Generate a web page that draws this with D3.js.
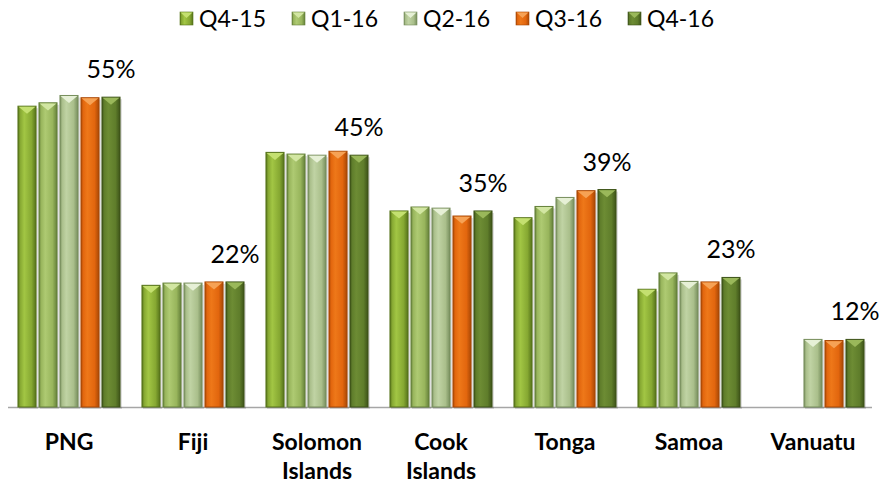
<!DOCTYPE html>
<html>
<head>
<meta charset="utf-8">
<script src="https://cdn.jsdelivr.net/npm/d3@7"></script>
<style>
  html, body { margin: 0; padding: 0; background: #ffffff; }
  svg { display: block; font-family: Lato, "Open Sans", sans-serif; }
</style>
</head>
<body>
<svg id="chart" width="879" height="485"></svg>
<script>
// ---- data ----
const categories = ["PNG", "Fiji", "Solomon Islands", "Cook Islands", "Tonga", "Samoa", "Vanuatu"];
const categoryLines = [["PNG"], ["Fiji"], ["Solomon", "Islands"], ["Cook", "Islands"], ["Tonga"], ["Samoa"], ["Vanuatu"]];
const series = ["Q4-15", "Q1-16", "Q2-16", "Q3-16", "Q4-16"];
const q415 = [53.4, 21.6, 45.2, 34.8, 33.6, 20.9, null];
const q116 = [54.0, 22.0, 44.9, 35.5, 35.6, 23.8, null];
const q216 = [55.3, 22.0, 44.7, 35.3, 37.2, 22.3, 12.0];
const q316 = [54.9, 22.2, 45.4, 33.9, 38.4, 22.2, 11.8];
const q416 = [55.0, 22.2, 44.7, 34.8, 38.6, 23.0, 12.0];
const seriesValues = [q415, q116, q216, q316, q416];
const labelSeries = "Q4-16";

// ---- styles ----
const colors = {
  "Q4-15": { base: "#86a832", light: "#a2c644", dark: "#56731a", cap: "#c4e070" },
  "Q1-16": { base: "#98b55c", light: "#aeca72", dark: "#65813a", cap: "#d2e6a2" },
  "Q2-16": { base: "#aabf8b", light: "#c0d3a4", dark: "#778e5d", cap: "#e6f0d6" },
  "Q3-16": { base: "#e2660e", light: "#ee7819", dark: "#a94805", cap: "#f6a255" },
  "Q4-16": { base: "#5f7d2b", light: "#6d8c34", dark: "#3d5318", cap: "#9ab85a" }
};

const svg = d3.select("#chart");
const defs = svg.append("defs");

series.forEach((s, i) => {
  const c = colors[s];
  const g = defs.append("linearGradient").attr("id", "grad" + i)
    .attr("x1", "0").attr("x2", "1").attr("y1", "0").attr("y2", "0");
  g.append("stop").attr("offset", "0").attr("stop-color", c.dark);
  g.append("stop").attr("offset", "0.12").attr("stop-color", c.base);
  g.append("stop").attr("offset", "0.35").attr("stop-color", c.light);
  g.append("stop").attr("offset", "0.75").attr("stop-color", c.base);
  g.append("stop").attr("offset", "1").attr("stop-color", c.dark);
});

const baseY = 407;
const y = d3.scaleLinear().domain([0, 60]).range([baseY, 69]);
const x0 = d3.scaleBand().domain(categories).range([7, 875]).paddingInner(0.177).paddingOuter(0.0885);
const x1 = d3.scaleBand().domain(series).range([0, x0.bandwidth()]).paddingInner(0.14).paddingOuter(0);

// axis baseline
svg.append("line")
  .attr("x1", 8).attr("x2", 872)
  .attr("y1", baseY + 0.5).attr("y2", baseY + 0.5)
  .attr("stroke", "#a6a6a6").attr("stroke-width", 1.5);

// bars
const bars = [];
categories.forEach((cat, ci) => {
  series.forEach((s, si) => {
    const v = seriesValues[si][ci];
    if (v != null) bars.push({ cat, s, si, v });
  });
});

const barG = svg.append("g");
const bw = x1.bandwidth();
const bg = barG.selectAll("g.bar").data(bars).enter().append("g").attr("class", "bar")
  .attr("transform", d => `translate(${x0(d.cat) + x1(d.s)},0)`);

// shadow
bg.append("rect")
  .attr("x", 1).attr("y", d => y(d.v) + 2)
  .attr("width", bw + 1).attr("height", d => baseY - y(d.v))
  .attr("fill", "#000").attr("opacity", 0.12);
bg.append("rect")
  .attr("x", 0).attr("y", d => y(d.v))
  .attr("width", bw).attr("height", d => baseY - y(d.v))
  .attr("fill", d => `url(#grad${d.si})`)
  .attr("stroke", d => colors[d.s].dark).attr("stroke-width", 1);
// top bevel triangle
bg.append("path")
  .attr("d", d => {
    const t = y(d.v) + 0.6;
    return `M0.6,${t} L${bw - 0.6},${t} L${bw / 2},${t + 7} Z`;
  })
  .attr("fill", d => colors[d.s].cap);

// value labels (on Q4-16 series)
const li = series.indexOf(labelSeries);
svg.append("g").selectAll("text").data(categories.map((c, i) => ({ c, v: seriesValues[li][i] })))
  .enter().append("text")
  .attr("x", d => x0(d.c) + x1(labelSeries) + bw / 2)
  .attr("y", d => y(d.v) - 19)
  .attr("text-anchor", "middle")
  .attr("font-size", 25)
  .attr("fill", "#000")
  .text(d => Math.round(d.v) + "%");

// category labels
const catG = svg.append("g");
categories.forEach((c, i) => {
  const t = catG.append("text")
    .attr("x", x0(c) + x0.bandwidth() / 2)
    .attr("y", 450)
    .attr("text-anchor", "middle")
    .attr("font-size", 23)
    .attr("font-weight", "bold")
    .attr("fill", "#000");
  categoryLines[i].forEach((ln, k) => {
    t.append("tspan").attr("x", x0(c) + x0.bandwidth() / 2).attr("dy", k === 0 ? 0 : 29).text(ln);
  });
});

// legend
const legendX = d3.scalePoint().domain(series).range([180, 628]);
const lg = svg.append("g").selectAll("g").data(series).enter().append("g")
  .attr("transform", d => `translate(${legendX(d)},12)`);
lg.append("rect").attr("width", 13).attr("height", 13)
  .attr("fill", (d, i) => `url(#grad${i})`)
  .attr("stroke", d => colors[d].dark).attr("stroke-width", 0.6);
lg.append("path").attr("d", "M0.5,0.5 L12.5,0.5 L6.5,6 Z").attr("fill", d => colors[d].cap);
lg.append("text").attr("x", 19).attr("y", 15)
  .attr("font-size", 23).attr("fill", "#000")
  .text(d => d);
</script>
</body>
</html>
